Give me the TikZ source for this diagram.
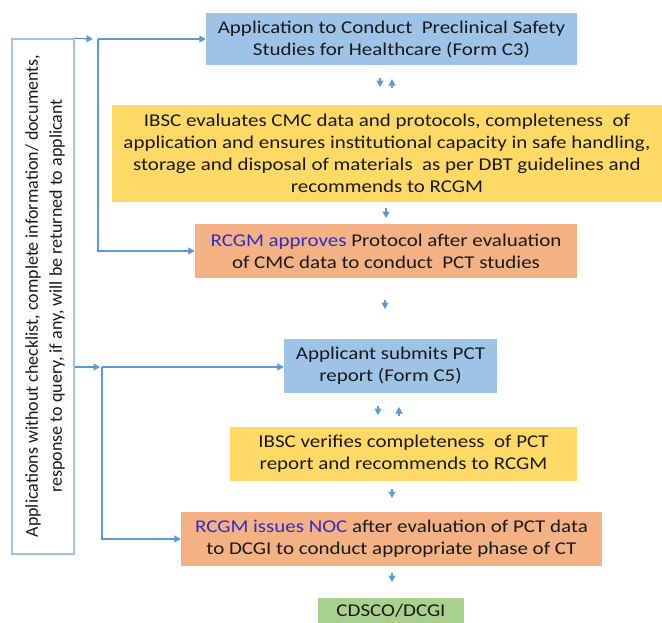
\documentclass[tikz,border=0pt]{standalone}
\usepackage{fontspec}
\setmainfont{Carlito}[FakeStretch=1.165]
\newfontfamily\plainfont{Carlito}
\usetikzlibrary{arrows.meta}
\definecolor{bluebox}{HTML}{9DC3E6}
\definecolor{yellowbox}{HTML}{FFD966}
\definecolor{orangebox}{HTML}{F4B183}
\definecolor{greenbox}{HTML}{A9D18E}
\definecolor{arrc}{HTML}{5B9BD5}
\definecolor{txt}{HTML}{1A1A1A}
\definecolor{hl}{HTML}{2E2EC4}
\begin{document}
\begin{tikzpicture}[x=1pt,y=-1pt,
  box/.style={inner sep=0pt, align=center, text=txt, font=\fontsize{18}{22}\selectfont},
  arr/.style={draw=arrc, line width=1.2pt, -{Triangle[width=7pt,length=6.5pt]}},
  ]
\useasboundingbox (0,0) rectangle (662,622);
\fill[white] (0,0) rectangle (662,622);

% left box
\node[draw=bluebox, line width=1.5pt, fill=white, minimum width=62, minimum height=515, inner sep=0pt] (lb) at (43,296.5) {};
\node[rotate=90, align=center, text=txt, inner sep=0pt, font=\plainfont\fontsize{18}{24}\selectfont] (lbt) at (45,296) {Applications without checklist, complete information/ documents,\\response to query, if any, will be returned to applicant};

% main boxes
\node[box, fill=bluebox, minimum width=371, minimum height=52] (b1) at (391.5,39)
  {Application to Conduct~ Preclinical Safety\\Studies for Healthcare (Form C3)};
\node[box, fill=yellowbox, minimum width=550, minimum height=97] (y1) at (387,153.5)
  {IBSC evaluates CMC data and protocols, completeness~ of\\application and ensures institutional capacity in safe handling,\\storage and disposal of materials~ as per DBT guidelines and\\recommends to RCGM};
\node[box, fill=orangebox, minimum width=382, minimum height=54] (r1) at (386,251)
  {\textcolor{hl}{RCGM approves} Protocol after evaluation\\of CMC data to conduct~ PCT studies};
\node[box, fill=bluebox, minimum width=213, minimum height=54] (ap) at (390.5,366)
  {Applicant submits PCT\\report (Form C5)};
\node[box, fill=yellowbox, minimum width=347, minimum height=54] (y2) at (403.5,454)
  {IBSC verifies completeness~ of PCT\\report and recommends to RCGM};
\node[box, fill=orangebox, minimum width=421, minimum height=54] (r2) at (391.5,539)
  {\textcolor{hl}{RCGM issues NOC} after evaluation of PCT data\\to DCGI to conduct appropriate phase of CT};
\node[box, fill=greenbox, minimum width=146, anchor=north, text height=18, text depth=24] (cd) at (391,598)
  {CDSCO/DCGI};

% connectors from left box
\coordinate (j1) at (93,39);
\coordinate (k1) at (98,39);
\draw[arr] (lb.north east) -- (j1);
\draw[arr] (k1) -- (b1.west);
\draw[arr] (k1) |- (r1.west);

\coordinate (j2) at (100,367);
\coordinate (k2) at (102,367);
\draw[arr] (lb.east |- j2) -- (j2);
\draw[arr] (k2) -- (ap.west |- k2);
\draw[arr] (k2) |- (r2.west);

% small arrows between boxes
\coordinate (a1s) at (380,78); \coordinate (a1e) at (380,87);
\coordinate (a2s) at (392,88); \coordinate (a2e) at (392,79);
\draw[arr] (a1s) -- (a1e);
\draw[arr] (a2s) -- (a2e);

\coordinate (a3s) at (386,208); \coordinate (a3e) at (386,218);
\draw[arr] (a3s) -- (a3e);

\coordinate (a4s) at (385,300); \coordinate (a4e) at (385,309);
\draw[arr] (a4s) -- (a4e);

\coordinate (a5s) at (378,406); \coordinate (a5e) at (378,415);
\coordinate (a6s) at (399,416); \coordinate (a6e) at (399,407);
\draw[arr] (a5s) -- (a5e);
\draw[arr] (a6s) -- (a6e);

\coordinate (a7s) at (392,489); \coordinate (a7e) at (392,498);
\draw[arr] (a7s) -- (a7e);

\coordinate (a8s) at (392,573); \coordinate (a8e) at (392,582);
\draw[arr] (a8s) -- (a8e);
\end{tikzpicture}
\end{document}
